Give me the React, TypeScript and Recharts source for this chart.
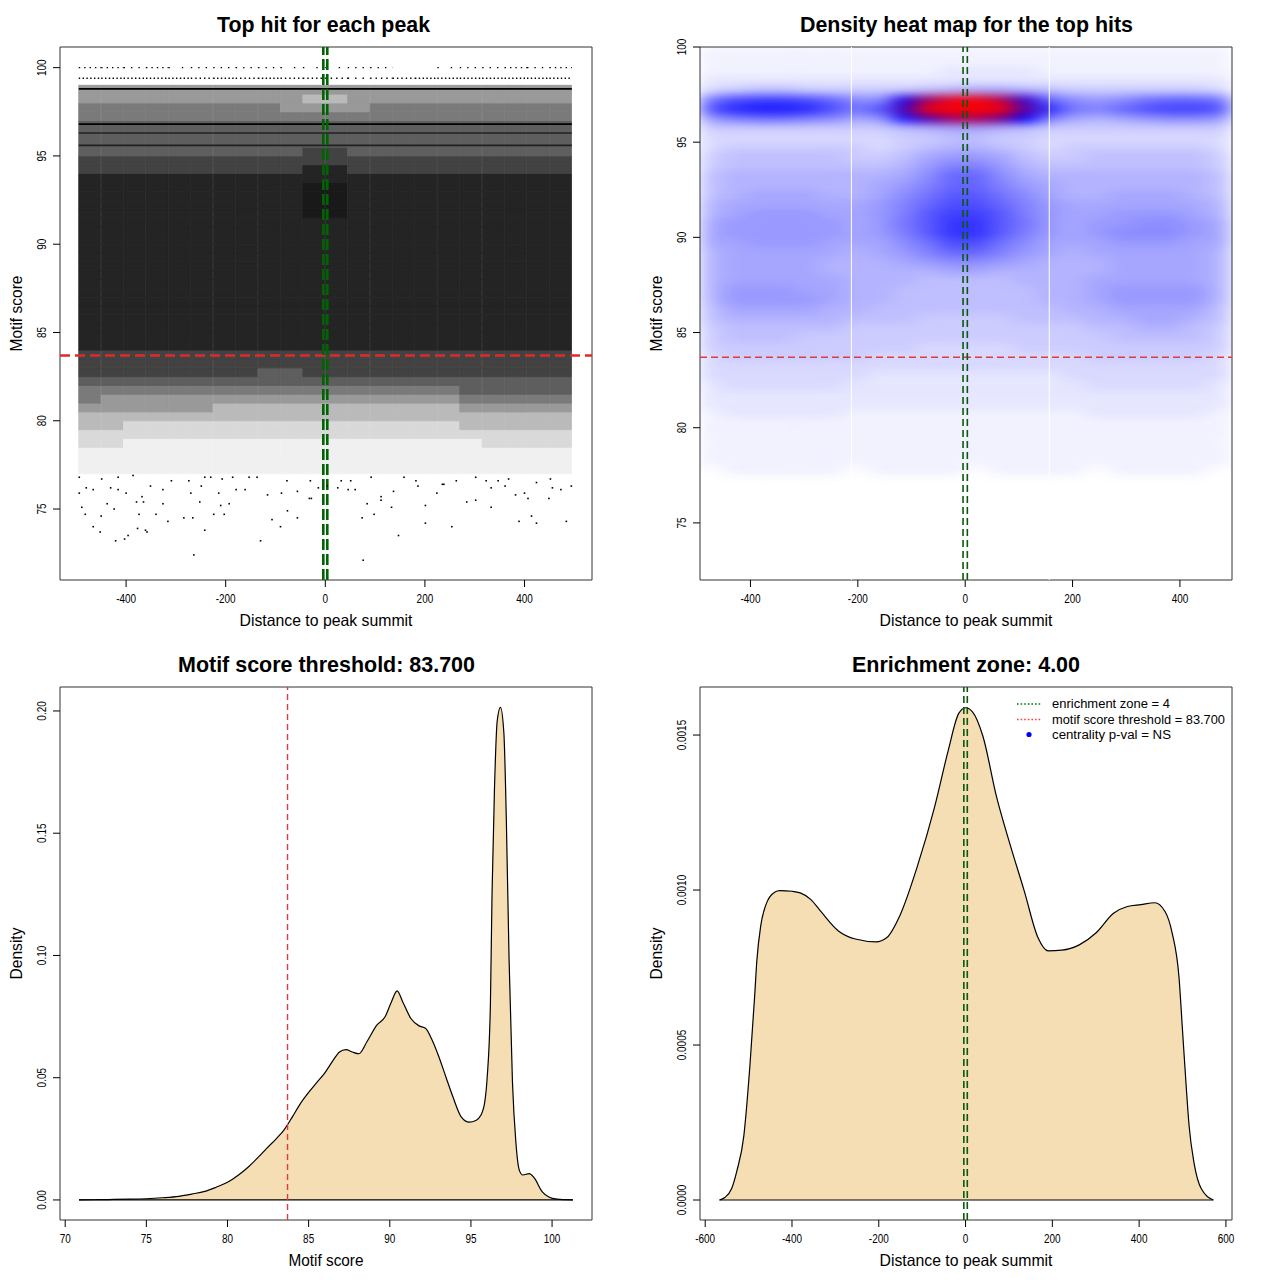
import React from 'react';
import {
  ComposedChart,
  Bar,
  Cell,
  XAxis,
  YAxis,
  Scatter,
  ReferenceLine,
  ReferenceArea,
  Area,
} from 'recharts';

const FONT = "'Liberation Sans', Arial, Helvetica, sans-serif";

// ---------------- shared ----------------
const threshold = 83.7;
const zone = 4;
const distanceColumns = [
  -472.5, -427.5, -382.5, -337.5, -292.5, -247.5, -202.5, -157.5, -112.5, -67.5, -22.5,
  22.5, 67.5, 112.5, 157.5, 202.5, 247.5, 292.5, 337.5, 382.5, 427.5, 472.5,
];
const columnHalfWidth = 22.5;
const distanceTicks = [-400, -200, 0, 200, 400];
const scoreTicks = [75, 80, 85, 90, 95, 100];

// ---------------- panel 1: top hit for each peak ----------------
const scatterBaseScore = 77;
const scatterRowHeight = 0.5;
const scatterRowStarts = [
  98.5, 98, 97.5, 97, 96.5, 96, 95.5, 95, 94.5, 94, 93.5, 93, 92.5, 92, 91.5, 91, 90.5, 90,
  89.5, 89, 88.5, 88, 87.5, 87, 86.5, 86, 85.5, 85, 84.5, 84, 83.5, 83, 82.5, 82, 81.5, 81,
  80.5, 80, 79.5, 79, 78.5, 78, 77.5, 77,
];
const scatterRowDensity = [
  '4444444444444444444444',
  '4444444444334444444444',
  '5555555554444555555555',
  '5555555555555555555555',
  '6666666666666666666666',
  '6666666666666666666666',
  '6666666666666666666666',
  '6666666666776666666666',
  '7777777777777777777777',
  '7777777777887777777777',
  '8888888888888888888888',
  '8888888888998888888888',
  '8888888888998888888888',
  '8888888888998888888888',
  '8888888888998888888888',
  '8888888888888888888888',
  '8888888888888888888888',
  '8888888888888888888888',
  '8888888888888888888888',
  '8888888888888888888888',
  '8888888888888888888888',
  '8888888888888888888888',
  '8888888888888888888888',
  '8888888888888888888888',
  '8888888888888888888888',
  '8888888888888888888888',
  '8888888888888888888888',
  '8888888888888888888888',
  '8888888888888888888888',
  '8888888888888888888888',
  '7777777777777777777777',
  '7777777777777777777777',
  '7777777766777777777777',
  '6666666666666666666666',
  '5555555555555555566666',
  '5444444444444444455555',
  '4444443333333333344444',
  '3333333333333333333333',
  '3322222222222222233333',
  '2222222222222222222222',
  '2211111111111111112222',
  '1111111111111111111111',
  '1111111111111111111111',
  '1111111111111111111111',
];
const discreteScoreLines = [98.8, 96.8, 96.3, 95.6];
const discreteLineStrength = [1, 1, 0.65, 0.65];
const dottedRowScores = [100, 99.4];
const dottedRowDensity = ['3323122221112200122323', '5555545454432345555555'];
const sparseDistance = [
  -494, -449, -416, -386, -309, -274, -242, -230, -207, -186, -153, -137, -77, -30, 32, 51, 92, 158, 182, 235, 263, 302, 323, 347, 368, 424, 452, 494,
  -494, -480, -466, -431, -416, -400, -368, -351, -326, -270, -249, -214, -179, -161, -116, -88, -56, -28, -14, 4, 25, 46, 60, 112, 137, 186, 224, 238, 284, 302, 333, 361, 382, 400, 407, 449, 456, 473,
  -489, -482, -450, -438, -424, -379, -374, -365, -340, -326, -316, -284, -266, -252, -224, -210, -203, -193, -107, -76, -56, -32, 84, 74, 98, 112, 133, 201, 333, 389, 414, 424, 484,
  -466, -452, -421, -403, -396, -377, -361, -358, -264, -242, -130, -90, 76, 147, 201, 254,
];
const sparseScore = [
  76.8, 76.7, 76.8, 76.9, 76.6, 76.6, 76.8, 76.8, 76.7, 76.8, 76.8, 76.8, 76.6, 76.6, 76.6, 76.6, 76.8, 76.8, 76.6, 76.4, 76.6, 76.8, 76.6, 76.6, 76.7, 76.5, 76.7, 76.3,
  75.9, 76.2, 76.1, 76.2, 76.1, 75.9, 75.7, 76.3, 76.1, 75.9, 76.3, 75.9, 76.1, 76.1, 75.8, 75.9, 76.0, 75.6, 76.2, 76.3, 76.2, 76.1, 76.1, 75.7, 76.0, 76.3, 75.9, 76.4, 75.4, 75.5, 76.2, 76.3, 75.8, 75.9, 75.6, 75.6, 76.2, 76.1,
  75.1, 74.7, 74.6, 75.3, 75.0, 75.4, 74.7, 75.4, 74.7, 75.3, 74.3, 74.5, 74.5, 75.4, 74.7, 75.2, 74.7, 75.3, 74.4, 74.9, 74.5, 75.6, 75.3, 74.5, 74.7, 75.5, 75.1, 75.2, 75.1, 74.3, 74.6, 74.2, 74.3,
  74.0, 73.7, 73.2, 73.3, 73.5, 73.9, 73.8, 73.7, 72.4, 73.8, 73.2, 74.0, 72.1, 73.5, 74.2, 74.0,
];

// ---------------- panel 2: density heat map ----------------
const heatBaseScore = 77;
const heatRowHeight = 0.5;
const heatRowStarts = [
  99.5, 99, 98.5, 98, 97.5, 97, 96.5, 96, 95.5, 95, 94.5, 94, 93.5, 93, 92.5, 92, 91.5, 91,
  90.5, 90, 89.5, 89, 88.5, 88, 87.5, 87, 86.5, 86, 85.5, 85, 84.5, 84, 83.5, 83, 82.5, 82,
  81.5, 81, 80.5, 80, 79.5, 79, 78.5, 78, 77.5, 77,
];
// level characters: 0..E  ->  intensity 0..1 (41 steps)
const heatRowLevels = [
  '1111111111111111111111',
  '1111111111111111111111',
  '1111111111222211111111',
  '2222222222222222222222',
  '3455444445677654444443',
  'beffec99mwCDyoc989bccb',
  'ehiihebeqEEEEshbaceffe',
  '8abba978iqwxska7678998',
  '4444444456776544444444',
  '3333333344554433333333',
  '3444444345665434444443',
  '4555554457887544555554',
  '4555555568aa8655555554',
  '5666666679cc9766666665',
  '566666678acca876666665',
  '567776679bddb976677765',
  '67777778aceeca87777776',
  '67888778adffda87788876',
  '78888878bdggdb87889987',
  '78888878adggda87899987',
  '778887779beeb977788877',
  '677777678acca876777776',
  '6777766678998766677776',
  '6777766666776666677776',
  '6777776665555666777776',
  '6888776655555566788886',
  '6888876655555566788886',
  '5777766555555556677775',
  '5666665554444555667765',
  '4555554444444444556654',
  '4555444444444444455554',
  '4444444443333444444444',
  '3444444333333333444443',
  '3333333333333333333333',
  '3333333222222223333333',
  '2333332222222222333332',
  '2222222222222222222222',
  '2222222222222222222222',
  '1222221111111111222221',
  '1111111111111111111111',
  '1111111111111111111111',
  '1111111111111111111111',
  '1111111111111111111111',
  '1111111111111111111111',
  '0111110111101111011110',
  '0000000000000000000000',
];
const heatSeams = [-212, 156.6];

// ---------------- panel 3: motif score density ----------------
const scoreGrid = [
  70.85, 72, 73, 74, 75, 76, 77, 77.8, 78.6, 79.3, 80, 80.7, 81.3, 81.9, 82.4, 83, 83.5, 84,
  84.5, 85, 85.5, 86, 86.5, 86.9, 87.3, 87.7, 88.1, 88.6, 89.2, 89.7, 90.1, 90.45, 90.8, 91.3,
  91.8, 92.2, 92.6, 93.0, 93.5, 93.9, 94.4, 94.9, 95.3, 95.6, 95.85, 96.0, 96.2, 96.3, 96.45,
  96.62, 96.82, 97.03, 97.18, 97.35, 97.56, 97.77, 97.99, 98.2, 98.6, 98.9, 99.4, 99.8, 100.3,
  100.8, 101.28,
];
const scoreDensity = [
  0, 0.0001, 0.0002, 0.0003, 0.0005, 0.0009, 0.0015, 0.0024, 0.0035, 0.0052, 0.0072, 0.0103,
  0.0136, 0.0175, 0.021, 0.025, 0.0288, 0.034, 0.0395, 0.044, 0.048, 0.052, 0.057, 0.0605,
  0.0615, 0.0605, 0.0598, 0.0648, 0.0715, 0.0748, 0.081, 0.0855, 0.081, 0.0742, 0.0712, 0.0702,
  0.0655, 0.059, 0.0495, 0.042, 0.034, 0.0318, 0.0325, 0.0345, 0.04, 0.05, 0.08, 0.125, 0.168,
  0.196, 0.2015, 0.191, 0.156, 0.0985, 0.048, 0.0235, 0.012, 0.0102, 0.0108, 0.009, 0.0033,
  0.0012, 0.0003, 0.0001, 0,
];
const scoreAxisTicks = [70, 75, 80, 85, 90, 95, 100];
const scoreDensityTicks = [0, 0.05, 0.1, 0.15, 0.2];

// ---------------- panel 4: distance density ----------------
const distGrid = [
  -567, -555, -539, -527, -511, -497, -486, -481, -472, -460, -440, -428, -400, -381, -357,
  -333, -293, -254, -206, -182, -151, -111, -71, -40, -16, 0, 16, 40, 71, 103, 135, 167, 190,
  222, 262, 301, 341, 373, 404, 436, 460, 476, 492, 500, 508, 515, 527, 543, 571,
];
const distDensity = [
  0, 0.000008, 0.000037, 0.000094, 0.000207, 0.000433, 0.000659, 0.000772, 0.000885, 0.000953,
  0.000993, 0.000998, 0.000996, 0.000991, 0.00097, 0.00093, 0.000868, 0.000842, 0.000833,
  0.000846, 0.000919, 0.001077, 0.00127, 0.00145, 0.001569, 0.001588, 0.001575, 0.001496,
  0.001303, 0.001145, 0.000998, 0.000846, 0.000804, 0.000806, 0.000823, 0.000862, 0.000925,
  0.000947, 0.000953, 0.000959, 0.00093, 0.000862, 0.000716, 0.000546, 0.000376, 0.000241,
  0.000116, 0.000037, 0,
];
const distAxisTicks = [-600, -400, -200, 0, 200, 400, 600];
const distDensityTicks = [0, 0.0005, 0.001, 0.0015];

// ---------------- text ----------------
const titles = [
  'Top hit for each peak',
  'Density heat map for the top hits',
  'Motif score threshold: 83.700',
  'Enrichment zone: 4.00',
];
const legendLabels = [
  'enrichment zone = ' + zone,
  'motif score threshold = ' + threshold.toFixed(3),
  'centrality p-val = NS',
];

// ---------------- helpers ----------------
const DOT_OPACITY = [0, 0.06, 0.15, 0.27, 0.4, 0.52, 0.63, 0.74, 0.86, 0.9];
function dotGray(ch: string): string {
  const g = Math.round(255 * (1 - DOT_OPACITY[Number(ch)]));
  return `rgb(${g},${g},${g})`;
}
const HEAT_KEYS = '0123456789abcdefghijklmnopqrstuvwxyzABCDE';
function heatColor(ch: string): string {
  const t = HEAT_KEYS.indexOf(ch) / 40;
  if (t <= 0.5) {
    const c = Math.round(255 * (1 - 2 * t));
    return `rgb(${c},${c},255)`;
  }
  const r = Math.round(255 * (2 * t - 1));
  const b = Math.round(255 * (2 - 2 * t));
  return `rgb(${r},0,${b})`;
}

const MARGIN = { top: 47, right: 48, bottom: 20, left: 20 };
const SIZE = 640;

const makeXTick = (fmt: (v: number) => string) => (props: any) => {
  const { x, y, payload } = props;
  return (
    <text
      transform={`translate(${x},${y + 15.5}) scale(0.83,1)`}
      textAnchor="middle"
      fontSize={12}
      fontFamily={FONT}
      fill="#000"
    >
      {fmt(payload.value)}
    </text>
  );
};
const makeYTick = (fmt: (v: number) => string) => (props: any) => {
  const { x, y, payload } = props;
  return (
    <text
      transform={`translate(${x - 7.5},${y}) rotate(-90) scale(0.83,1)`}
      textAnchor="middle"
      fontSize={12}
      fontFamily={FONT}
      fill="#000"
    >
      {fmt(payload.value)}
    </text>
  );
};
const intFmt = (v: number) => String(v);

const axisCommon = {
  tickSize: 7,
  tickMargin: 0,
  axisLine: false,
  tickLine: { stroke: '#000', strokeWidth: 1 },
  interval: 0 as const,
  allowDataOverflow: true,
  type: 'number' as const,
};

const DotShape = (p: any) => (
  <rect x={p.cx - 0.8} y={p.cy - 0.8} width={1.6} height={1.6} fill="#000" />
);

// ---------------- panels ----------------
const P1_X: [number, number] = [-532.7, 535.5];
const P1_Y: [number, number] = [70.98, 101.17];

function ScatterPanel() {
  const table = distanceColumns.map((d) => {
    const row: any = { d, base: scatterBaseScore };
    scatterRowStarts.forEach((_, i) => {
      row['r' + i] = scatterRowHeight;
    });
    return row;
  });
  const points = sparseDistance.map((x, i) => ({ x, y: sparseScore[i] }));
  const order = scatterRowStarts.map((_, i) => i).reverse();
  return (
    <ComposedChart width={SIZE} height={SIZE} data={table} margin={MARGIN} barCategoryGap={0} barGap={0}>
      <XAxis
        xAxisId="main"
        dataKey="x"
        domain={P1_X}
        ticks={distanceTicks}
        height={40}
        tick={makeXTick(intFmt)}
        {...axisCommon}
      />
      <YAxis
        yAxisId="main"
        dataKey="y"
        domain={P1_Y}
        ticks={scoreTicks}
        width={40}
        tick={makeYTick(intFmt)}
        {...axisCommon}
      />
      <XAxis xAxisId="bars" dataKey="d" type="number" domain={P1_X} allowDataOverflow hide height={0} />
      <YAxis yAxisId="bars" type="number" domain={P1_Y} allowDataOverflow hide width={0} />
      <Bar xAxisId="bars" yAxisId="bars" dataKey="base" stackId="s" fill="none" isAnimationActive={false} />
      {order.map((ri) => (
        <Bar
          key={'r' + ri}
          xAxisId="bars"
          yAxisId="bars"
          dataKey={'r' + ri}
          stackId="s"
          fill="#000"
          isAnimationActive={false}
        >
          {distanceColumns.map((_, ci) => {
            const c = dotGray(scatterRowDensity[ri][ci]);
            return <Cell key={ci} fill={c} stroke={c} strokeWidth={0.9} />;
          })}
        </Bar>
      ))}
      <Scatter xAxisId="main" yAxisId="main" data={points} shape={DotShape} isAnimationActive={false} />
      {discreteScoreLines.map((s, i) => (
        <ReferenceLine
          key={'dl' + i}
          xAxisId="main"
          yAxisId="main"
          segment={[
            { x: distanceColumns[0] - columnHalfWidth, y: s },
            { x: distanceColumns[distanceColumns.length - 1] + columnHalfWidth, y: s },
          ]}
          stroke="#000"
          strokeOpacity={discreteLineStrength[i]}
          strokeWidth={1.6}
        />
      ))}
      {dottedRowScores.map((s, ri) =>
        distanceColumns.map((c, ci) => {
          const dens = Number(dottedRowDensity[ri][ci]);
          if (!dens) return null;
          return (
            <ReferenceLine
              key={`dot${ri}-${ci}`}
              xAxisId="main"
              yAxisId="main"
              segment={[
                { x: c - columnHalfWidth, y: s },
                { x: c + columnHalfWidth, y: s },
              ]}
              stroke="#000"
              strokeWidth={1.4}
              strokeDasharray={`1.4 ${(12 / dens).toFixed(1)}`}
            />
          );
        })
      )}
      <ReferenceLine xAxisId="main" yAxisId="main" y={threshold} stroke="#dd2b2b" strokeWidth={2.5} strokeDasharray="10 5" />
      <ReferenceLine xAxisId="main" yAxisId="main" x={-zone} stroke="#006400" strokeWidth={2.6} strokeDasharray="11 4" />
      <ReferenceLine xAxisId="main" yAxisId="main" x={zone} stroke="#006400" strokeWidth={2.6} strokeDasharray="11 4" />
      <ReferenceArea
        xAxisId="main"
        yAxisId="main"
        x1={P1_X[0]}
        x2={P1_X[1]}
        y1={P1_Y[0]}
        y2={P1_Y[1]}
        fill="none"
        stroke="#333"
        strokeWidth={1}
        ifOverflow="visible"
      />
    </ComposedChart>
  );
}

const P2_X: [number, number] = [-494, 497];
const P2_Y: [number, number] = [72, 100];

function HeatCells() {
  const table = distanceColumns.map((d) => {
    const row: any = { d, base: heatBaseScore };
    heatRowStarts.forEach((_, i) => {
      row['h' + i] = heatRowHeight;
    });
    return row;
  });
  const order = heatRowStarts.map((_, i) => i).reverse();
  return (
    <ComposedChart width={532} height={533} data={table} margin={{ top: 0, right: 0, bottom: 0, left: 0 }} barCategoryGap={0} barGap={0}>
      <XAxis dataKey="d" type="number" domain={P2_X} allowDataOverflow hide height={0} />
      <YAxis type="number" domain={P2_Y} allowDataOverflow hide width={0} />
      <Bar dataKey="base" stackId="h" fill="none" isAnimationActive={false} />
      {order.map((ri) => (
        <Bar key={'h' + ri} dataKey={'h' + ri} stackId="h" fill="#fff" isAnimationActive={false}>
          {distanceColumns.map((_, ci) => {
            const c = heatColor(heatRowLevels[ri][ci]);
            return <Cell key={ci} fill={c} stroke={c} strokeWidth={0.9} />;
          })}
        </Bar>
      ))}
    </ComposedChart>
  );
}

function HeatFrame() {
  return (
    <ComposedChart width={SIZE} height={SIZE} margin={MARGIN}>
      <XAxis dataKey="x" domain={P2_X} ticks={distanceTicks} height={40} tick={makeXTick(intFmt)} {...axisCommon} />
      <YAxis dataKey="y" domain={P2_Y} ticks={scoreTicks} width={40} tick={makeYTick(intFmt)} {...axisCommon} />
      {heatSeams.map((s) => (
        <ReferenceLine key={'seam' + s} x={s} stroke="#ffffff" strokeWidth={1} />
      ))}
      <ReferenceLine y={threshold} stroke="#e03a3a" strokeWidth={1.6} strokeDasharray="7 4" />
      <ReferenceLine x={-zone} stroke="#0b5a0b" strokeWidth={1.6} strokeDasharray="7 4" />
      <ReferenceLine x={zone} stroke="#0b5a0b" strokeWidth={1.6} strokeDasharray="7 4" />
      <ReferenceArea x1={P2_X[0]} x2={P2_X[1]} y1={P2_Y[0]} y2={P2_Y[1]} fill="none" stroke="#333" strokeWidth={1} ifOverflow="visible" />
    </ComposedChart>
  );
}

const P3_X: [number, number] = [69.68, 102.46];
const P3_Y: [number, number] = [-0.0082, 0.2098];

function ScoreDensityPanel() {
  const data = scoreGrid.map((x, i) => ({ x, y: scoreDensity[i] }));
  return (
    <ComposedChart width={SIZE} height={SIZE} data={data} margin={MARGIN}>
      <XAxis dataKey="x" domain={P3_X} ticks={scoreAxisTicks} height={40} tick={makeXTick(intFmt)} {...axisCommon} />
      <YAxis domain={P3_Y} ticks={scoreDensityTicks} width={40} tick={makeYTick((v) => v.toFixed(2))} {...axisCommon} />
      <Area
        dataKey="y"
        type="monotone"
        baseValue={0}
        fill="#F5DEB3"
        fillOpacity={1}
        stroke="#000"
        strokeWidth={1.2}
        dot={false}
        activeDot={false}
        isAnimationActive={false}
      />
      <ReferenceLine
        segment={[
          { x: scoreGrid[0], y: 0 },
          { x: scoreGrid[scoreGrid.length - 1], y: 0 },
        ]}
        stroke="#000"
        strokeWidth={1.2}
      />
      <ReferenceLine x={threshold} stroke="#e03a3a" strokeWidth={1.4} strokeDasharray="6 4" />
      <ReferenceArea x1={P3_X[0]} x2={P3_X[1]} y1={P3_Y[0]} y2={P3_Y[1]} fill="none" stroke="#333" strokeWidth={1} ifOverflow="visible" />
    </ComposedChart>
  );
}

const P4_X: [number, number] = [-612, 614];
const P4_Y: [number, number] = [-0.0000645, 0.001655];

function DistanceDensityPanel() {
  const data = distGrid.map((x, i) => ({ x, y: distDensity[i] }));
  return (
    <ComposedChart width={SIZE} height={SIZE} data={data} margin={MARGIN}>
      <XAxis dataKey="x" domain={P4_X} ticks={distAxisTicks} height={40} tick={makeXTick(intFmt)} {...axisCommon} />
      <YAxis domain={P4_Y} ticks={distDensityTicks} width={40} tick={makeYTick((v) => v.toFixed(4))} {...axisCommon} />
      <Area
        dataKey="y"
        type="monotone"
        baseValue={0}
        fill="#F5DEB3"
        fillOpacity={1}
        stroke="#000"
        strokeWidth={1.2}
        dot={false}
        activeDot={false}
        isAnimationActive={false}
      />
      <ReferenceLine
        segment={[
          { x: distGrid[0], y: 0 },
          { x: distGrid[distGrid.length - 1], y: 0 },
        ]}
        stroke="#000"
        strokeWidth={1.2}
      />
      <ReferenceLine x={-zone} stroke="#0b5a0b" strokeWidth={1.6} strokeDasharray="7 4" />
      <ReferenceLine x={zone} stroke="#0b5a0b" strokeWidth={1.6} strokeDasharray="7 4" />
      <ReferenceArea x1={P4_X[0]} x2={P4_X[1]} y1={P4_Y[0]} y2={P4_Y[1]} fill="none" stroke="#333" strokeWidth={1} ifOverflow="visible" />
    </ComposedChart>
  );
}

function TextLayer() {
  const titleProps = { fontFamily: FONT, fontWeight: 700, fontSize: 22, textAnchor: 'middle' as const, lengthAdjust: 'spacingAndGlyphs' as const };
  const labelProps = { fontFamily: FONT, fontSize: 16.5, textAnchor: 'middle' as const, lengthAdjust: 'spacingAndGlyphs' as const };
  const legendProps = { fontFamily: FONT, fontSize: 12.5, lengthAdjust: 'spacingAndGlyphs' as const };
  return (
    <svg width={1280} height={1280} style={{ position: 'absolute', left: 0, top: 0, pointerEvents: 'none' }}>
      <text x={323.5} y={32} textLength={213} {...titleProps}>{titles[0]}</text>
      <text x={966.5} y={32} textLength={333} {...titleProps}>{titles[1]}</text>
      <text x={326.5} y={672} textLength={297} {...titleProps}>{titles[2]}</text>
      <text x={966} y={672} textLength={228} {...titleProps}>{titles[3]}</text>

      <text x={326} y={626} textLength={173} {...labelProps}>Distance to peak summit</text>
      <text x={966} y={626} textLength={173} {...labelProps}>Distance to peak summit</text>
      <text x={326} y={1266} textLength={75} {...labelProps}>Motif score</text>
      <text x={966} y={1266} textLength={173} {...labelProps}>Distance to peak summit</text>

      <text transform="translate(22,313.5) rotate(-90)" textLength={76} {...labelProps}>Motif score</text>
      <text transform="translate(662,313.5) rotate(-90)" textLength={76} {...labelProps}>Motif score</text>
      <text transform="translate(22,953.5) rotate(-90)" textLength={52} {...labelProps}>Density</text>
      <text transform="translate(662,953.5) rotate(-90)" textLength={52} {...labelProps}>Density</text>

      <line x1={1017} y1={704} x2={1041} y2={704} stroke="#008000" strokeWidth={1.3} strokeDasharray="1.6 2" />
      <line x1={1017} y1={719.5} x2={1041} y2={719.5} stroke="#ff3b3b" strokeWidth={1.3} strokeDasharray="1.6 2" />
      <circle cx={1029} cy={734.5} r={2.6} fill="#0000ff" />
      <text x={1052} y={708.3} textLength={118} {...legendProps}>{legendLabels[0]}</text>
      <text x={1052} y={723.8} textLength={173} {...legendProps}>{legendLabels[1]}</text>
      <text x={1052} y={739.3} textLength={119} {...legendProps}>{legendLabels[2]}</text>
    </svg>
  );
}

export default function App() {
  return (
    <div
      style={{
        position: 'absolute',
        left: 0,
        top: 0,
        width: 1280,
        height: 1280,
        background: '#fff',
        fontFamily: FONT,
        overflow: 'hidden',
      }}
    >
      <svg width={0} height={0} style={{ position: 'absolute' }}>
        <defs>
          <filter id="heatBlur" x="-10%" y="-10%" width="120%" height="120%" colorInterpolationFilters="sRGB">
            <feGaussianBlur stdDeviation="10 4.5" />
          </filter>
        </defs>
      </svg>
      <div style={{ position: 'absolute', left: 0, top: 0 }}>
        <ScatterPanel />
      </div>
      <div style={{ position: 'absolute', left: 700, top: 47, width: 532, height: 533, overflow: 'hidden' }}>
        <div style={{ filter: 'url(#heatBlur)' }}>
          <HeatCells />
        </div>
      </div>
      <div style={{ position: 'absolute', left: 640, top: 0 }}>
        <HeatFrame />
      </div>
      <div style={{ position: 'absolute', left: 0, top: 640 }}>
        <ScoreDensityPanel />
      </div>
      <div style={{ position: 'absolute', left: 640, top: 640 }}>
        <DistanceDensityPanel />
      </div>
      <TextLayer />
    </div>
  );
}
